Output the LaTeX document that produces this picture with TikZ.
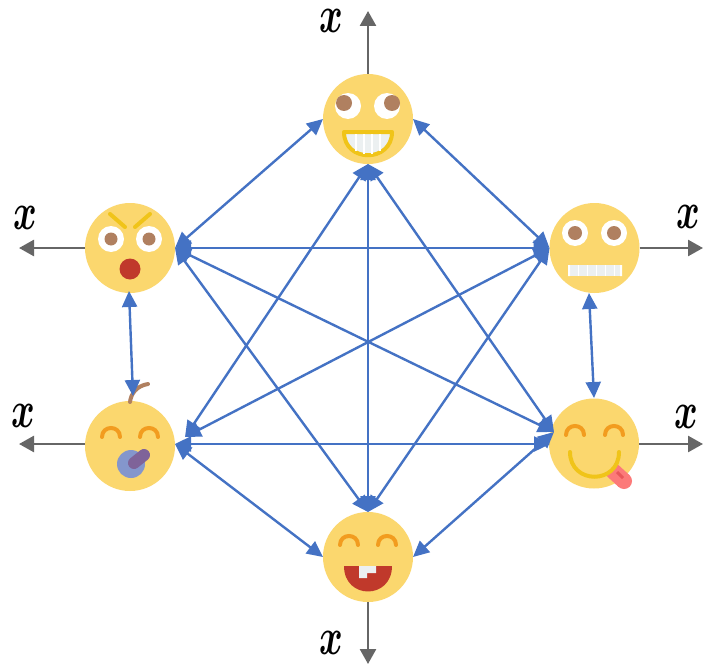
\documentclass[tikz,border=0pt]{standalone}
\usetikzlibrary{arrows.meta}
\definecolor{faceY}{HTML}{FBD76E}
\definecolor{blueL}{HTML}{4472C4}
\definecolor{grayL}{HTML}{666666}
\definecolor{browneye}{HTML}{B08060}
\definecolor{yel}{HTML}{F0C419}
\definecolor{org}{HTML}{F29C1F}
\definecolor{redm}{HTML}{C0392B}
\definecolor{tooth}{HTML}{ECF0F1}
\definecolor{pacifier}{HTML}{8496CC}
\definecolor{handle}{HTML}{7F6399}
\definecolor{tongue}{HTML}{FC7A79}
\definecolor{tonguedark}{HTML}{E8575A}
\tikzset{
  face/.style={circle,fill=faceY,minimum size=90pt,inner sep=0pt,outer sep=0pt},
  link/.style={draw=blueL,line width=2.4pt,{Triangle[length=16pt,width=15pt]}-{Triangle[length=16pt,width=15pt]}},
  outarrow/.style={draw=grayL,line width=2.6pt,-{Triangle[length=15pt,width=16pt]}},
  xlabel/.style={inner sep=0pt,text=black},
  eyewhite/.style={fill=white},
  pupil/.style={fill=browneye},
  happy/.style={draw=org,line width=4pt,line cap=round},
}
\newcommand{\xmark}{\scalebox{3.6}[5.2]{\boldmath$x$}}
\newcommand{\happyeye}[2]{\draw[happy] (#1-9,#2) .. controls (#1-9,#2-12) and (#1+9,#2-12) .. (#1+9,#2);}
\begin{document}
\begin{tikzpicture}[x=1pt,y=-1pt]
\useasboundingbox (0,0) rectangle (703,666);
\fill[white] (0,0) rectangle (703,666);
% faces
\node[face] (top) at (368,119) {};
\node[face] (lt) at (130,248) {};
\node[face] (rt) at (594.5,248) {};
\node[face] (lb) at (130,446) {};
\node[face] (rb) at (594,443.5) {};
\node[face] (bot) at (368,557) {};
% top face
\fill[eyewhite] (348,106) circle[radius=13] (387,106) circle[radius=13];
\fill[pupil] (344,103) circle[radius=8] (392,103) circle[radius=8];
\draw[yel,fill=tooth,line width=4pt,line join=round] (344,132) -- (392,132) .. controls (392,163) and (344,163) .. (344,132) -- cycle;
\draw[white,line width=1.2pt] (356,134)--(356,151) (364,134)--(364,154) (372,134)--(372,154) (380,134)--(380,151);
% left top face
\fill[eyewhite] (111,239) circle[radius=13] (149,239) circle[radius=13];
\fill[pupil] (111,239) circle[radius=6.5] (149,239) circle[radius=6.5];
\draw[yel,line width=4pt,line cap=round] (110,214)--(125,227) (150,214)--(135,227);
\fill[redm] (130,269) circle[radius=10.5];
% right top face
\fill[eyewhite] (575,233) circle[radius=13] (614,233) circle[radius=13];
\fill[pupil] (575,233) circle[radius=7] (614,233) circle[radius=7];
\fill[tooth] (568,265) rectangle (622,276);
\fill[white] (568,265) rectangle (570,276) (620,265) rectangle (622,276);
\draw[white,line width=1pt] (578,265)--(578,276) (587,265)--(587,276) (596,265)--(596,276) (605,265)--(605,276) (614,265)--(614,276);
% left bottom face
\draw[browneye,line width=4pt,line cap=round] (130,402) .. controls (131,394) and (136,386) .. (148,384);
\happyeye{111}{437}
\happyeye{149}{437}
\fill[pacifier] (131,464) circle[radius=14];
\draw[handle,line width=12pt,line cap=round] (134,463)--(144,455);
% right bottom face
\draw[tongue,line width=16pt] (612,470)--(624,481);
\fill[tongue] (624,481) circle[radius=8];
\draw[tonguedark,line width=3pt] (617,472)--(623,478);
\happyeye{575}{435}
\happyeye{614}{435}
\draw[yel,line width=4pt,line cap=round] (570,452) .. controls (570,485) and (619,485) .. (619,452);
% bottom face
\happyeye{349}{545}
\happyeye{387}{545}
\fill[redm] (344,566) -- (392,566) .. controls (392,600) and (344,600) .. (344,566) -- cycle;
\fill[tooth] (359,566) -- (376,566) -- (376,573) -- (367,573) -- (367,578) -- (359,578) -- cycle;
% free ends
\coordinate (tx) at (368,11);
\coordinate (ltx) at (19,248);
\coordinate (rtx) at (703,248);
\coordinate (lbx) at (19,444);
\coordinate (rbx) at (703,444);
\coordinate (botx) at (368,664);
\coordinate (lbin) at (185,437);
\coordinate (rbin) at (554,432);
\coordinate (rbh) at (550,444);
\coordinate (ltlow) at (129,291);
\coordinate (lbup) at (133,396);
\coordinate (rtlow) at (589,293);
\coordinate (lbh) at (175,444);
\coordinate (rbup) at (594,398);
% outputs
\draw[outarrow] (top.north) -- (tx);
\draw[outarrow] (lt.west) -- (ltx);
\draw[outarrow] (rt.east) -- (rtx);
\draw[outarrow] (85,444) -- (lbx);
\draw[outarrow] (639,444) -- (rbx);
\draw[outarrow] (bot.south) -- (botx);
% connectors
\draw[link] (top.west) -- (lt.east);
\draw[link] (top.east) -- (rt.west);
\draw[link] (top.south) -- (lbin);
\draw[link] (top.south) -- (rbin);
\draw[link] (top.south) -- (bot.north);
\draw[link] (lt.east) -- (rt.west);
\draw[link] (lt.east) -- (rbin);
\draw[link] (lt.east) -- (bot.north);
\draw[link] (rt.west) -- (lbin);
\draw[link] (rt.west) -- (bot.north);
\draw[link] (lbh) -- (rbh);
\draw[link] (lbh) -- (bot.west);
\draw[link] (rbin) -- (bot.east);
\draw[link] (ltlow) -- (lbup);
\draw[link] (rtlow) -- (rbup);
% labels
\node[xlabel] (lx1) at (331,21) {\xmark};
\node[xlabel] (lx2) at (25,218) {\xmark};
\node[xlabel] (lx3) at (688,217) {\xmark};
\node[xlabel] (lx4) at (23,416) {\xmark};
\node[xlabel] (lx5) at (686,417) {\xmark};
\node[xlabel] (lx6) at (331,643) {\xmark};
\end{tikzpicture}
\end{document}
